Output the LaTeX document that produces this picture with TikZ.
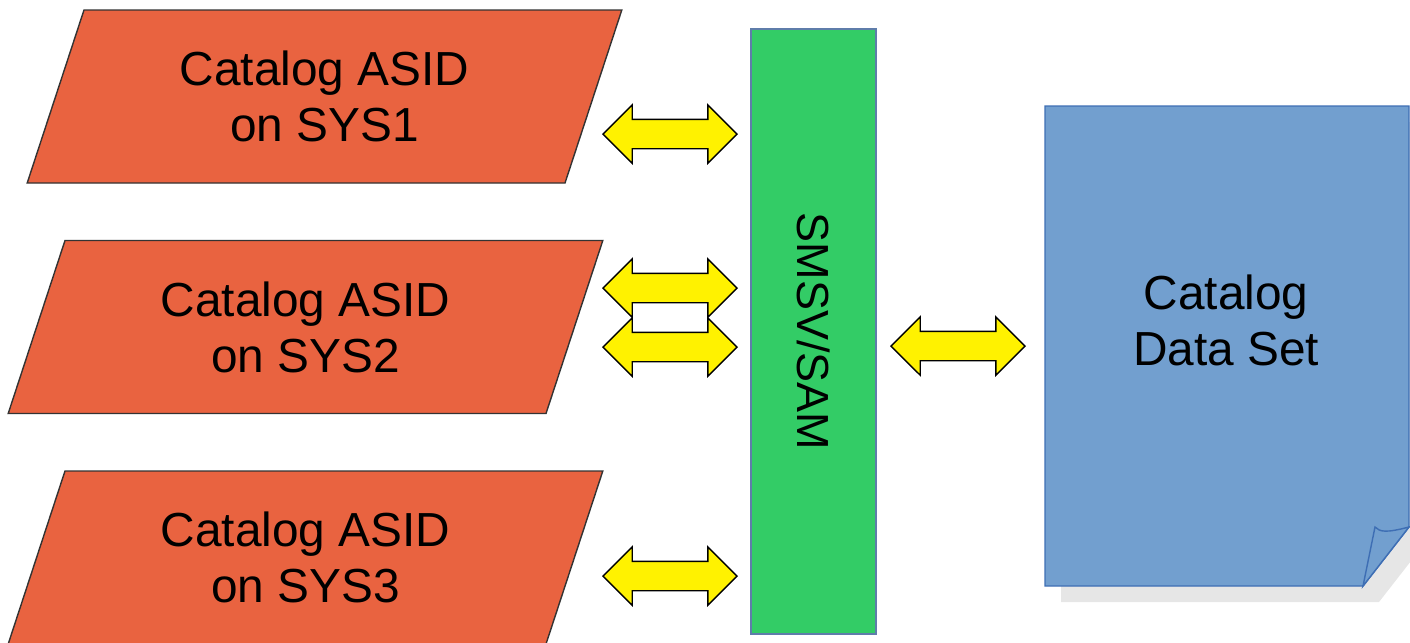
\documentclass[tikz,border=0pt]{standalone}
\usepackage{fontspec}
\setmainfont{Liberation Sans}
\usetikzlibrary{shapes.geometric,shapes.arrows}
\definecolor{asidred}{RGB}{233,99,64}
\definecolor{smsgreen}{RGB}{51,204,102}
\definecolor{smsedge}{RGB}{95,125,170}
\definecolor{dsblue}{RGB}{114,159,207}
\definecolor{dsedge}{RGB}{62,110,180}
\definecolor{dsshadow}{RGB}{230,230,230}

\begin{document}
\begin{tikzpicture}[x=0.1mm,y=-0.1mm,
     asid/.style={trapezium,trapezium left angle=69.4,trapezium right angle=110.6,
                  trapezium stretches=true,minimum width=59.5mm,minimum height=17.3mm,
                  draw=black!80,fill=asidred,align=center,inner sep=0pt},
     smsbar/.style={rectangle,draw=smsedge,fill=smsgreen,rotate=-90,
                  minimum width=60.5mm,minimum height=12.5mm,inner sep=0pt},
     dblarrow/.style={double arrow,draw=black,fill=yellow,inner xsep=0pt,inner ysep=1.4mm,
                  minimum height=13.4mm,minimum width=5.7mm,
                  double arrow head extend=1.45mm},
     txt/.style={font=\fontsize{13.6}{15.9}\selectfont,align=center}
     ]
   \useasboundingbox (0,0) rectangle (1410,642);
   \clip (0,0) rectangle (1410,642);

   % the three catalog address spaces
   \foreach \i/\x/\y in {1/324.5/96.5, 2/305.5/327, 3/305.5/557.5}
   {
     \node[asid,txt] (asid\i) at (\x,\y) {Catalog ASID\\on SYS\i};
   }

   \node[smsbar,txt,font=\fontsize{12.8}{15}\selectfont] (sms) at (813.5,331.5) {SMSV/SAM};

   % catalog data set, shadow first then the page with its folded corner
   \fill[dsshadow,shift={(16,16)}]
      (1045,106)--(1409,106)--(1409,527)--(1363,586)--(1045,586)--cycle;
   \draw[dsedge,fill=dsblue]
      (1045,106)--(1409,106)--(1409,527)--(1363,586)--(1045,586)--cycle;
   \draw[dsedge,fill=dsblue]
      (1363,586)--(1375,527) .. controls (1380,532) and (1386,533) .. (1409,527)--cycle;
   \node[txt] (cds) at (1226,320) {Catalog\\Data Set};

   % exchange arrows
   \foreach \i/\y in {1/134, 2/288, 3/347, 4/576}
   {
     \node[dblarrow] (xa\i) at (670,\y) {};
   }
   \node[dblarrow] (xds) at (958,346) {};
 \end{tikzpicture}
\end{document}
